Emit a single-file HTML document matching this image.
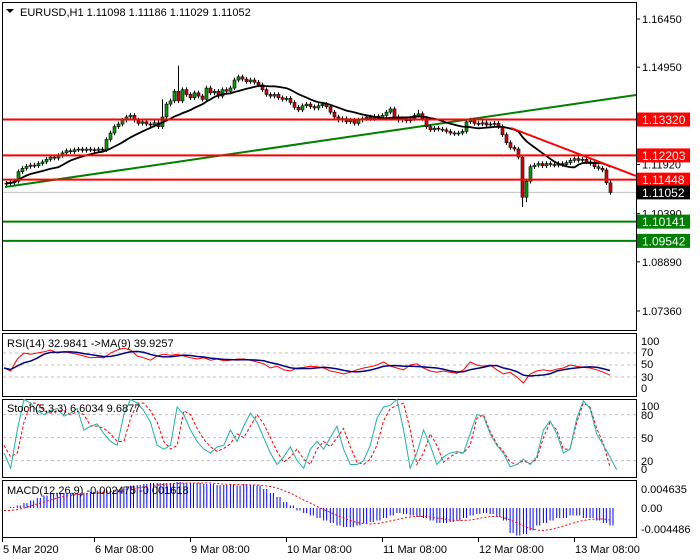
<!DOCTYPE html>
<html><head><meta charset="utf-8"><style>
html,body{margin:0;padding:0;background:#fff;}
svg{display:block;font-family:"Liberation Sans",Tahoma,sans-serif;}
</style></head><body>
<svg id="c" width="700" height="560" xmlns="http://www.w3.org/2000/svg"></svg>
<script>
const closes=[1.1134,1.1136,1.1140,1.1170,1.1180,1.1186,1.1190,1.1188,1.1195,1.1200,
1.1208,1.1215,1.1212,1.1220,1.1228,1.1235,1.1232,1.1238,1.1240,1.1236,
1.1240,1.1238,1.1236,1.1240,1.1238,1.1270,1.1290,1.1310,1.1318,1.1330,
1.1340,1.1345,1.1330,1.1320,1.1325,1.1318,1.1315,1.1322,1.1310,1.1340,
1.1380,1.1390,1.1420,1.1390,1.1425,1.1410,1.1400,1.1415,1.1405,1.1395,
1.1430,1.1415,1.1420,1.1405,1.1425,1.1420,1.1430,1.1455,1.1465,1.1458,
1.1450,1.1455,1.1448,1.1440,1.1425,1.1410,1.1405,1.1410,1.1400,1.1395,
1.1398,1.1385,1.1370,1.1362,1.1375,1.1380,1.1372,1.1368,1.1375,1.1380,
1.1372,1.1355,1.1340,1.1330,1.1335,1.1325,1.1330,1.1320,1.1330,1.1335,
1.1340,1.1335,1.1342,1.1338,1.1345,1.1355,1.1365,1.1340,1.1330,1.1335,
1.1328,1.1335,1.1345,1.1350,1.1335,1.1310,1.1300,1.1305,1.1302,1.1300,
1.1295,1.1290,1.1288,1.1290,1.1295,1.1325,1.1330,1.1320,1.1318,1.1322,
1.1315,1.1318,1.1320,1.1310,1.1285,1.1260,1.1245,1.1240,1.1215,1.1090,
1.1140,1.1185,1.1190,1.1195,1.1188,1.1195,1.1192,1.1190,1.1195,1.1192,
1.1198,1.1205,1.1210,1.1205,1.1208,1.1200,1.1195,1.1185,1.1180,1.1175,
1.1135,1.1105];
const spikeHighIdx=[43,39,103];
const spikeHighVal=[1.1500,1.1395,1.1362];
const spikeLowIdx=[129,130];
const spikeLowVal=[1.1060,1.1075];
const rsi=[45,40,60,70,68,70,72,75,70,72,70,68,65,62,63,62,70,75,78,75,65,62,58,65,68,66,68,65,62,60,62,58,60,57,58,60,60,58,55,52,45,48,42,40,45,46,48,47,45,40,38,35,38,42,45,47,50,55,48,45,42,50,52,45,40,38,40,38,36,42,55,50,48,50,42,35,38,30,20,35,40,42,40,43,45,50,48,46,45,42,38,33];
const stochK=[30,10,60,100,95,85,80,85,88,78,82,88,60,65,68,55,45,40,80,100,95,85,70,40,35,40,90,80,60,45,35,30,38,40,60,45,65,82,70,50,30,15,25,38,20,10,35,45,35,50,65,35,15,15,20,40,75,90,92,100,60,10,30,60,40,15,25,30,32,30,55,80,78,55,40,30,12,15,22,15,25,60,72,55,30,35,75,98,88,55,40,25,8];
const stochD=[40,25,30,70,95,95,85,82,85,85,80,84,80,65,65,62,55,45,45,75,95,95,85,70,45,35,40,85,80,62,48,38,32,36,42,55,50,65,80,68,50,32,18,25,35,22,15,35,45,38,50,62,38,18,15,22,40,72,88,92,95,60,15,30,55,40,18,25,30,30,40,75,80,58,42,32,18,15,20,16,22,50,70,60,35,35,70,95,90,62,42,12];
const macd=[0,0.2,0.5,1.0,1.5,2,2.5,2.8,3,3,3,3,3,3.2,3.5,3.5,3.6,3.8,4.2,4.5,4.6,4.8,5,5,5,5,5.2,5,5,5,4.8,4.8,4.6,4.6,4.6,4.5,4.8,4.6,4.5,3.8,3,2.2,1.2,0.5,-0.5,-1,-1.5,-2,-2.5,-3,-3.5,-3.8,-3.8,-3.5,-3,-2.8,-2.5,-2,-1.5,-1,-1.2,-1.5,-1.8,-2,-2.5,-3,-3,-2.8,-2.5,-2,-1.5,-1.2,-1,-1.2,-1.8,-2.5,-5,-5.5,-5.2,-4.5,-3.5,-3,-2.5,-2,-2,-1.5,-1.5,-2,-2,-2.5,-3,-3.5];
const signal=[-0.5,-0.5,-0.3,0,0.4,0.8,1.2,1.6,2,2.3,2.5,2.7,2.8,2.9,3,3.1,3.3,3.4,3.6,3.8,4,4.2,4.4,4.6,4.7,4.8,4.9,5,5,5,5,5,4.9,4.8,4.7,4.7,4.6,4.6,4.6,4.5,4.3,4,3.5,3,2.3,1.6,1,0.3,-0.3,-0.9,-1.5,-2,-2.5,-2.9,-3.1,-3.2,-3.1,-2.9,-2.6,-2.3,-2,-1.8,-1.7,-1.7,-1.8,-2,-2.2,-2.4,-2.5,-2.5,-2.4,-2.2,-1.9,-1.7,-1.7,-1.9,-2.4,-3,-3.6,-4.1,-4.4,-4.5,-4.3,-4,-3.6,-3.2,-2.8,-2.5,-2.3,-2.2,-2.2,-2.4];
const priceTicks=["1.16450","1.14950","1.13420","1.11920","1.10390","1.08890","1.07360"];
const priceTickVals=[1.1645,1.1495,1.1342,1.1192,1.1039,1.0889,1.0736];
const redLevels=[1.13320,1.12203,1.11448];
const greenLevels=[1.10141,1.09542];
const lastPrice=1.11052;
const timeLabels=["5 Mar 2020","6 Mar 08:00","9 Mar 08:00","10 Mar 08:00","11 Mar 08:00","12 Mar 08:00","13 Mar 08:00"];
const timeLabelBars=[0,24,48,72,96,120,144];

const NS="http://www.w3.org/2000/svg", svg=document.getElementById('c');
function el(t,a,p){const e=document.createElementNS(NS,t);for(const k in a)e.setAttribute(k,a[k]);(p||svg).appendChild(e);return e;}
function txt(x,y,s,a){const e=el('text',Object.assign({x:x,y:y,'font-size':11,fill:'#000'},a||{}));e.textContent=s;return e;}
const xBar=i=>6+4*i;
const yP=p=>19+(1.1645-p)*3212;
const R=636;
const panels=[[2,2,330],[2,333,396],[2,399,477],[2,480,537]];
const pn=['main-panel','rsi-panel','stoch-panel','macd-panel'];
panels.forEach((p,k)=>{const r=el('rect',{x:p[0]+0.5,y:p[1]+0.5,width:R-p[0],height:p[2]-p[1],fill:'#fff',stroke:'#000','stroke-width':1});
});
priceTicks.forEach((t,k)=>{const y=yP(priceTickVals[k]);el('line',{x1:R,x2:R+4,y1:y,y2:y,stroke:'#000'});
const e=txt(642,y+4,t);});
el('line',{x1:3,x2:R,y1:yP(lastPrice),y2:yP(lastPrice),stroke:'#c0c0c0'});
const gt=el('line',{x1:5,y1:187,x2:R,y2:95,stroke:'#008000','stroke-width':2});

const n=closes.length;
for(let i=0;i<n;i++){
  const c=closes[i],o=i?closes[i-1]:c-0.0002;
  let h=Math.max(o,c)+0.0007,l=Math.min(o,c)-0.0007;
  const hi=spikeHighIdx.indexOf(i);if(hi>=0)h=spikeHighVal[hi];
  const li=spikeLowIdx.indexOf(i);if(li>=0)l=spikeLowVal[li];
  const x=xBar(i),g=el('g',{});
  
  el('line',{x1:x+0.5,x2:x+0.5,y1:yP(h),y2:yP(l),stroke:'#000'},g);
  const top=yP(Math.max(o,c)),bh=Math.max(1,yP(Math.min(o,c))-top);
  el('rect',{x:x-1,y:top,width:3,height:bh,fill:c>=o?'#00a000':'#e00000',stroke:'#000','stroke-width':0.6},g);
}
let pts=[];for(let i=0;i<n;i++){let s=0,m=0;for(let j=Math.max(0,i-13);j<=i;j++){s+=closes[j];m++;}pts.push(xBar(i)+0.5+','+yP(s/m).toFixed(1));}
const ma=el('polyline',{points:pts.join(' '),fill:'none',stroke:'#000','stroke-width':1.8});

redLevels.forEach(v=>{const y=yP(v);const l=el('line',{x1:3,x2:R,y1:y,y2:y,stroke:'#ff0000','stroke-width':2});
});
greenLevels.forEach(v=>{const y=yP(v);const l=el('line',{x1:3,x2:R,y1:y,y2:y,stroke:'#008000','stroke-width':2});
});
const rt=el('line',{x1:511,y1:128,x2:R,y2:176,stroke:'#ff0000','stroke-width':2});

function box(v,col){const y=yP(v);const g=el('g',{});
el('rect',{x:637,y:y-7,width:53,height:14,fill:col},g);const t=txt(642,y+4.5,v.toFixed(5),{fill:'#fff','font-size':12});g.appendChild(t);}
redLevels.forEach(v=>box(v,'#ff0000'));box(lastPrice,'#000');greenLevels.forEach(v=>box(v,'#008000'));
el('path',{d:'M6 9 L14 9 L10 13 Z',fill:'#000'});
const ti=txt(20,16,'EURUSD,H1  1.11098 1.11186 1.11029 1.11052');
const xo=i=>4+i*(606/91);
function dash(y){el('line',{x1:3,x2:R,y1:y,y2:y,stroke:'#c0c0c0','stroke-dasharray':'3,3'});}
const yR=v=>395-v*0.6;
[70,50,30].forEach(v=>dash(yR(v)));
const rp=el('polyline',{points:rsi.map((v,i)=>xo(i)+','+yR(v)).join(' '),fill:'none',stroke:'#ff0000'});

const rma=rsi.map((v,i)=>{let s=0,m=0;for(let j=Math.max(0,i-4);j<=i;j++){s+=rsi[j];m++;}return s/m;});
const rm=el('polyline',{points:rma.map((v,i)=>xo(i)+','+yR(v)).join(' '),fill:'none',stroke:'#000080','stroke-width':1.5});

txt(7,347,'RSI(14) 32.9841  ->MA(9) 39.9257');
[['100',345],['70',356],['50',368],['30',381],['0',392]].forEach(a=>txt(641,a[1],a[0]));
const yS=v=>476-v*0.767;
[80,50,20].forEach(v=>dash(yS(v)));
const sd=el('polyline',{points:stochD.map((v,i)=>xo(i)+','+yS(v)).join(' '),fill:'none',stroke:'#ff0000','stroke-dasharray':'3,2'});

const sk=el('polyline',{points:stochK.map((v,i)=>xo(i)+','+yS(v)).join(' '),fill:'none',stroke:'#20b2aa'});

txt(7,412,'Stoch(5,3,3) 6.6034 9.6877');
[['100',410],['80',419],['50',442],['20',465],['0',473]].forEach(a=>txt(641,a[1],a[0]));
const yM=v=>508-v*5;
macd.forEach((v,i)=>{[0,3].forEach(d=>{const b=el('line',{x1:xo(i)+d,x2:xo(i)+d,y1:yM(0),y2:yM(v),stroke:'#0000ff'});
});});
const sg=el('polyline',{points:signal.map((v,i)=>xo(i)+','+yM(v)).join(' '),fill:'none',stroke:'#ff0000','stroke-dasharray':'2,2'});

txt(7,494,'MACD(12,26,9) -0.002475 -0.001618');
[['0.004635',493],['0.00',512],['-0.004486',533]].forEach(a=>txt(641,a[1],a[0]));
timeLabels.forEach((t,k)=>{const x=k==0?2:xBar(timeLabelBars[k])-8;el('line',{x1:x+0.5,x2:x+0.5,y1:537,y2:542,stroke:'#000'});
const e=txt(x+1,553,t);});
</script>
</body></html>
